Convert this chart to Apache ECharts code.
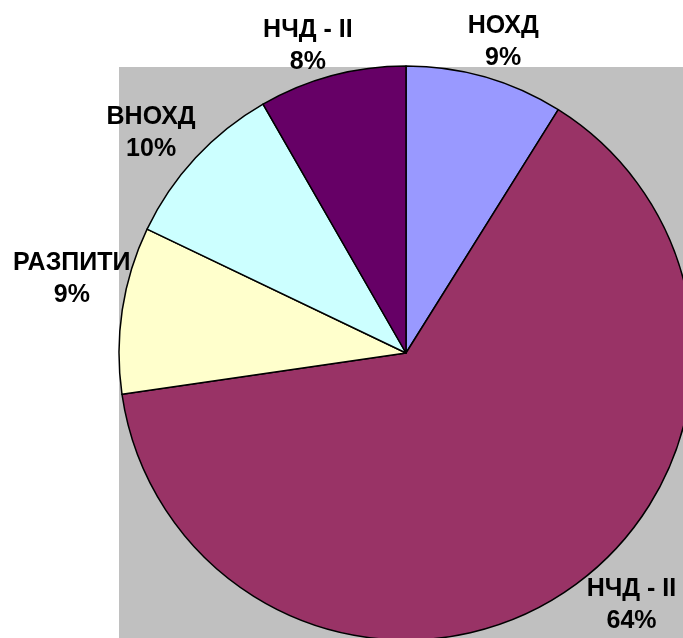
<!doctype html>
<html lang="bg">
<head>
<meta charset="utf-8" />
<title>Pie</title>
<script src="https://cdn.jsdelivr.net/npm/echarts@6/dist/echarts.min.js"></script>
<style>
  html, body { margin: 0; padding: 0; background: #fff; }
  #chart { width: 683px; height: 638px; }
</style>
</head>
<body>
<div id="chart"></div>
<script>
  // slices, clockwise from 12 o'clock
  const categories = ['НОХД', 'НЧД - II', 'РАЗПИТИ', 'ВНОХД', 'НЧД - II'];
  const values = [89, 638, 94, 96, 83];
  const colors = ['#9999FF', '#993366', '#FFFFCC', '#CCFFFF', '#660066'];
  // nudges so labels sit where Excel put them
  const labelOffsets = [[5, 10], [43, -28], [-4, -24], [-10, 7], [-12, 16]];

  const center = [406, 353];
  const chart = echarts.init(document.getElementById('chart'), null, { renderer: 'canvas' });

  const pieData = categories.map((name, i) => ({
    name, value: values[i], itemStyle: { color: colors[i] }
  }));
  const labelData = categories.map((name, i) => ({
    name, value: values[i], label: { offset: labelOffsets[i] }
  }));

  chart.setOption({
    animation: false,
    backgroundColor: '#fff',
    graphic: [{
      type: 'rect', z: -10, silent: true,
      shape: { x: 119, y: 67, width: 564, height: 571 },
      style: { fill: '#C0C0C0' }
    }],
    series: [
      {
        type: 'pie',
        center: center,
        radius: 287,
        startAngle: 90,
        clockwise: true,
        silent: true,
        label: { show: false },
        labelLine: { show: false },
        itemStyle: { borderColor: '#000', borderWidth: 1.5 },
        data: pieData
      },
      {
        type: 'pie',
        center: center,
        radius: [287, 375],
        startAngle: 90,
        clockwise: true,
        silent: true,
        itemStyle: { color: 'rgba(0,0,0,0)', borderWidth: 0 },
        label: {
          show: true,
          position: 'inside',
          fontFamily: 'Liberation Sans, Arial, sans-serif',
          fontWeight: 'bold',
          fontSize: 25,
          lineHeight: 32,
          color: '#000',
          align: 'center',
          formatter: p => p.name + '\n' + Math.round(p.percent) + '%'
        },
        labelLine: { show: false },
        data: labelData
      }
    ]
  });
</script>
</body>
</html>
